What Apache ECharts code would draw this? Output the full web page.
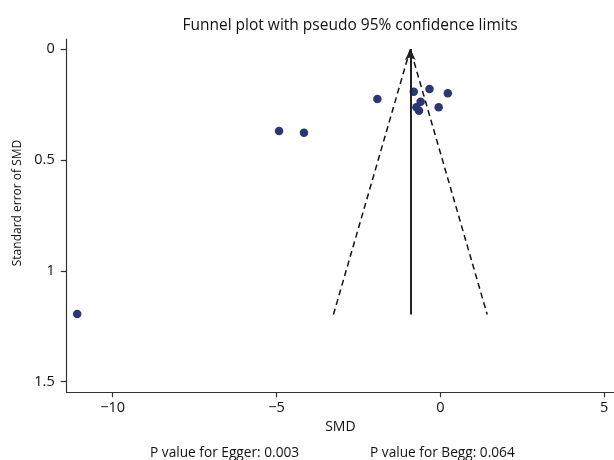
<!DOCTYPE html>
<html><head><meta charset="utf-8">
<script src="https://cdn.jsdelivr.net/npm/echarts@6/dist/echarts.min.js"></script>
<style>html,body{margin:0;padding:0;background:#fff}#c{width:614px;height:460px}</style>
</head><body><div id="c"></div>
<script>
// Study points
const smd = [-11.08, -4.92, -4.16, -1.92, -0.81, -0.33, 0.23, -0.05, -0.73, -0.60, -0.65];
const seSmd = [1.195, 0.370, 0.378, 0.226, 0.193, 0.180, 0.200, 0.263, 0.263, 0.238, 0.278];
// Pooled estimate and pseudo 95% limits
const pooled = -0.915;
const maxSE = 1.197;
const funnelLeft = -3.26;
const funnelRight = 1.43;
// Tick labels
const xTicks = [-10, -5, 0, 5];
const yTicks = [0, 0.5, 1, 1.5];
const titleText = 'Funnel plot with pseudo 95% confidence limits';
const eggerText = 'P value for Egger: 0.003';
const beggText = 'P value for Begg: 0.064';

const FONT = 'Open Sans';
const chart = echarts.init(document.getElementById('c'), null, {renderer: 'canvas'});
const pts = smd.map((x, i) => [x, seSmd[i]]);
const minus = v => String(v).replace('-', '\u2212');

chart.setOption({
  animation: false,
  backgroundColor: '#fff',
  title: {
    text: titleText, left: 345, top: 13, textAlign: 'center',
    textStyle: {fontFamily: FONT, fontSize: 15.5, fontWeight: 'normal', color: '#111'}
  },
  grid: {left: 66.7, right: 0, top: 39, bottom: 67.7, containLabel: false},
  xAxis: {
    type: 'value', min: -11.4, max: 5.3,
    name: 'SMD', nameLocation: 'middle', nameGap: 26,
    nameTextStyle: {fontFamily: FONT, fontSize: 14, color: '#111'},
    axisLine: {show: true, onZero: false, lineStyle: {color: '#333', width: 1.2}},
    axisTick: {show: true, customValues: xTicks, length: 5, lineStyle: {color: '#333', width: 1.2}},
    axisLabel: {customValues: xTicks, formatter: minus, margin: 8,
      fontFamily: FONT, fontSize: 14.5, color: '#111'},
    splitLine: {show: false}
  },
  yAxis: {
    type: 'value', min: -0.045, max: 1.548, inverse: true,
    axisLine: {show: true, onZero: false, lineStyle: {color: '#333', width: 1.2}},
    axisTick: {show: true, customValues: yTicks, length: 6, lineStyle: {color: '#333', width: 1.2}},
    axisLabel: {customValues: yTicks, formatter: v => String(v), margin: 12,
      fontFamily: FONT, fontSize: 14.5, color: '#111'},
    splitLine: {show: false}
  },
  graphic: [
    {type: 'text', x: 18, y: 203, rotation: Math.PI / 2,
      style: {text: 'Standard error of SMD', fontFamily: FONT, fontSize: 12, fill: '#111',
        align: 'center', verticalAlign: 'middle'}},
    {type: 'text', x: 150, y: 453,
      style: {text: eggerText, fontFamily: FONT, fontSize: 13.7, fill: '#111',
        align: 'left', verticalAlign: 'middle'}},
    {type: 'text', x: 370, y: 453,
      style: {text: beggText, fontFamily: FONT, fontSize: 13.7, fill: '#111',
        align: 'left', verticalAlign: 'middle'}}
  ],
  series: [
    {
      type: 'line', data: [[funnelLeft, maxSE], [pooled, 0], [funnelRight, maxSE]],
      symbol: 'none', silent: true,
      lineStyle: {color: '#111', width: 1.5, type: [6, 4]}, z: 2
    },
    {
      type: 'line', data: [], symbol: 'none', silent: true,
      markLine: {
        silent: true, symbol: ['none', 'arrow'], symbolSize: [8, 11],
        label: {show: false},
        lineStyle: {color: '#222', width: 2, type: 'solid'},
        data: [[{coord: [pooled, maxSE]}, {coord: [pooled, 0]}]]
      }, z: 3
    },
    {
      type: 'scatter', data: pts, symbol: 'circle', symbolSize: 8.5,
      itemStyle: {color: '#2c3677', opacity: 1}, z: 4
    }
  ]
});
</script></body></html>
